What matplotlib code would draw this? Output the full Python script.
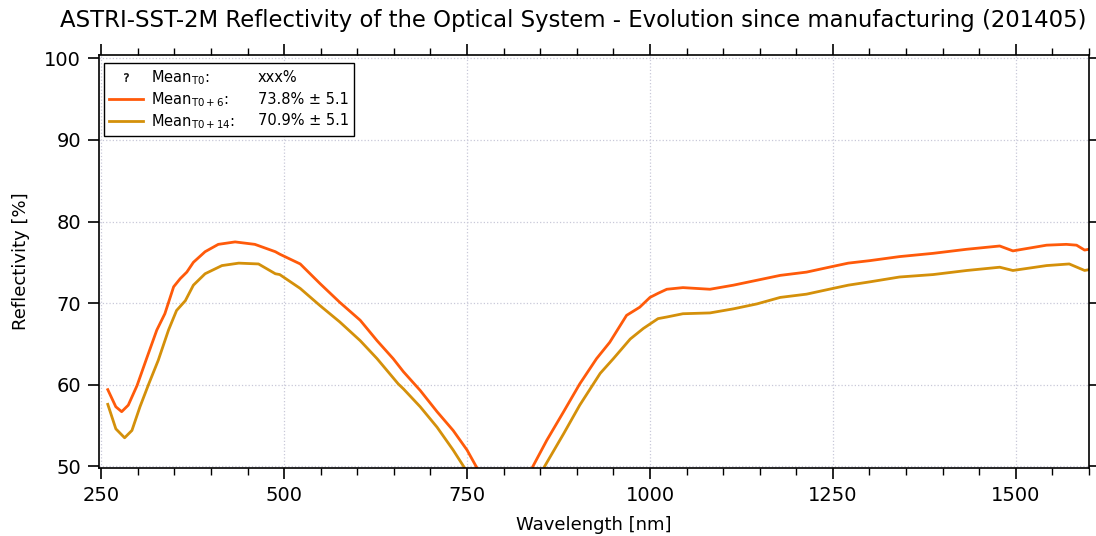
import numpy as np
import matplotlib
matplotlib.use("Agg")
import matplotlib.pyplot as plt
from matplotlib.lines import Line2D
from matplotlib.ticker import MultipleLocator

# reflectivity (two pieces each, gap around 800 nm)
wl_t6_a = [259, 270, 278, 287, 299, 312, 326, 337, 349, 358, 367, 376, 392, 410, 433, 460, 488, 494,
           522, 549, 576, 604, 627, 649, 663, 686, 709, 731, 750, 763]
r_t6_a = [59.4, 57.3, 56.7, 57.5, 59.9, 63.2, 66.7, 68.7, 72.0, 73.0, 73.8, 75.0, 76.3, 77.2, 77.5, 77.2, 76.3, 76.0,
          74.8, 72.4, 70.1, 67.9, 65.4, 63.2, 61.6, 59.3, 56.7, 54.4, 52.0, 49.9]
wl_t6_b = [840, 859, 882, 904, 927, 945, 968, 986, 1000, 1011, 1023, 1045, 1082, 1114, 1146, 1178,
           1214, 1250, 1271, 1300, 1341, 1387, 1433, 1478, 1496, 1542, 1569, 1583, 1594, 1600]
r_t6_b = [50.0, 53.2, 56.7, 60.1, 63.2, 65.2, 68.5, 69.5, 70.7, 71.2, 71.7, 71.9, 71.7, 72.2, 72.8, 73.4,
          73.8, 74.5, 74.9, 75.2, 75.7, 76.1, 76.6, 77.0, 76.4, 77.1, 77.2, 77.1, 76.5, 76.6]

wl_t14_a = [259, 270, 282, 292, 303, 315, 328, 342, 353, 365, 376, 392, 415, 438, 465, 488, 494,
            522, 549, 576, 604, 627, 656, 663, 686, 709, 731, 746]
r_t14_a = [57.6, 54.6, 53.5, 54.4, 57.3, 60.1, 63.0, 66.7, 69.1, 70.3, 72.2, 73.6, 74.6, 74.9, 74.8, 73.6, 73.5,
           71.8, 69.7, 67.7, 65.4, 63.2, 60.1, 59.5, 57.3, 54.8, 52.0, 49.9]
wl_t14_b = [856, 882, 904, 932, 950, 973, 991, 1011, 1023, 1045, 1082, 1114, 1146, 1178,
            1214, 1250, 1271, 1300, 1341, 1387, 1433, 1478, 1496, 1542, 1573, 1594, 1600]
r_t14_b = [50.0, 54.0, 57.5, 61.4, 63.2, 65.6, 66.9, 68.1, 68.3, 68.7, 68.8, 69.3, 69.9, 70.7,
           71.1, 71.8, 72.2, 72.6, 73.2, 73.5, 74.0, 74.4, 74.0, 74.6, 74.8, 74.0, 74.1]

legend_labels = ["Mean$_{\\mathrm{T0}}$:", "Mean$_{\\mathrm{T0+6}}$:", "Mean$_{\\mathrm{T0+14}}$:"]
legend_values = ["xxx%", "73.8% \u00b1 5.1", "70.9% \u00b1 5.1"]

c6 = "#ff5a0a"
c14 = "#d4900a"

fig = plt.figure(figsize=(10.96, 5.36), dpi=100)
ax = fig.add_axes([99 / 1096, 68 / 536, 990 / 1096, 413 / 536])

ax.plot(wl_t6_a, r_t6_a, color=c6, lw=2)
ax.plot(wl_t6_b, r_t6_b, color=c6, lw=2)
ax.plot(wl_t14_a, r_t14_a, color=c14, lw=2)
ax.plot(wl_t14_b, r_t14_b, color=c14, lw=2)

ax.set_xlim(247, 1600)
ax.set_ylim(49.8, 100.4)
ax.xaxis.set_major_locator(MultipleLocator(250))
ax.xaxis.set_minor_locator(MultipleLocator(50))
ax.yaxis.set_major_locator(MultipleLocator(10))
ax.tick_params(which="both", direction="out", top=True, right=True,
               labeltop=False, labelright=False, labelsize=14)
ax.tick_params(which="major", length=8, width=1.2, pad=5)
ax.tick_params(which="minor", length=5, width=1)
ax.grid(True, which="major", color="#c8c8d8", linestyle=":", linewidth=0.9)
for s in ax.spines.values():
    s.set_linewidth(1.2)

ax.set_xlabel("Wavelength [nm]", fontsize=13, labelpad=8)
ax.set_ylabel("Reflectivity [%]", fontsize=13, labelpad=10)
fig.text(573 / 1096, 1 - 20 / 536,
         "ASTRI-SST-2M Reflectivity of the Optical System - Evolution since manufacturing (201405)",
         fontsize=16.4, ha="center", va="center")

handles = [Line2D([], [], marker="$?$", linestyle="none", color="black", markersize=6,
                  markeredgewidth=0.3),
           Line2D([], [], color=c6, lw=2),
           Line2D([], [], color=c14, lw=2)]
leg = ax.legend(handles, legend_labels, loc="upper left", mode="expand",
                bbox_to_anchor=(0.005, 0.9806 - 0.174, 0.2525, 0.174), fontsize=10.5,
                fancybox=False, edgecolor="black", framealpha=1, handlelength=2.3,
                borderpad=0.35, labelspacing=0.22, handletextpad=0.55, borderaxespad=0)
leg.get_frame().set_linewidth(1)

# values column inside the legend box, aligned with legend rows
fig.canvas.draw()
r = fig.canvas.get_renderer()
inv = ax.transAxes.inverted()
x_val = inv.transform((258, 0))[0]
for t, v in zip(leg.get_texts(), legend_values):
    bb = t.get_window_extent(r)
    yc = inv.transform((0, bb.y1 - 9))[1]
    ax.text(x_val, yc, v, transform=ax.transAxes, fontsize=10.5, va="center", zorder=10)

fig.savefig("out.png", dpi=100)
